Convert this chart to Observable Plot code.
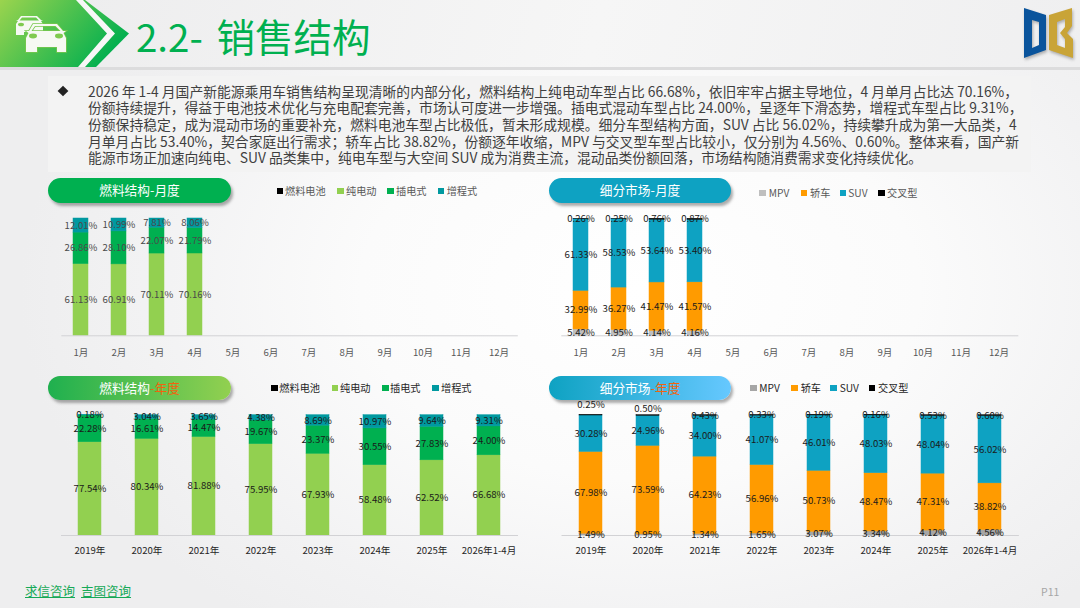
<!DOCTYPE html>
<html lang="zh-CN">
<head>
<meta charset="utf-8">
<script src="https://cdn.jsdelivr.net/npm/d3@7"></script>
<script src="https://cdn.jsdelivr.net/npm/@observablehq/plot@0.6"></script>
<style>
html,body{margin:0;padding:0}
body{width:1080px;height:608px;overflow:hidden;position:relative;font-family:"Noto Sans CJK SC","Noto Sans",sans-serif;
background:radial-gradient(ellipse 620px 420px at 640px 290px,#ffffff 0%,#fbfbfb 45%,#f2f2f3 80%,#eeeeef 100%)}
.abs{position:absolute}
#head{left:0;top:0;width:1080px;height:67px;background:linear-gradient(105deg,#ececed 0%,#f6f6f6 55%,#efeff0 100%)}
#rule{left:0;top:67px;width:1080px;height:3px;background:#dcdcdd}
#title{left:136px;top:10px;font-size:38.5px;line-height:50px;color:#00b050;white-space:nowrap}
#title span{margin-right:5px}
#para{left:48px;top:76px;width:983px;height:96px;background:#f3f3f3}
#para div{position:absolute;left:40px;white-space:nowrap;font-size:13.8px;line-height:16.5px;color:#404040}
.pill{height:24.5px;border-radius:12.5px;color:#fff;font-size:12.7px;line-height:24px;text-align:center;box-shadow:2px 3px 3px rgba(70,70,70,.45)}
.pill b{font-weight:400;color:#f0640f}
.lg{font-size:10.2px;line-height:14px;white-space:nowrap}
.sw{width:6.5px;height:6.5px}
#foot{left:25px;top:582px;font-size:12.5px;line-height:18px;color:#16a957;white-space:nowrap}
#foot u{margin-right:6px}
#pg{left:1041px;top:584px;font-size:10.5px;line-height:16px;color:#a6a6a6}
</style>
</head>
<body>
<div class="abs" id="head"></div>
<div class="abs" id="rule"></div>
<svg class="abs" style="left:0;top:0" width="135" height="68" viewBox="0 0 135 68">
<defs><linearGradient id="g" x1="0" y1="0" x2="1" y2="0.45"><stop offset="0" stop-color="#9bd44e"/><stop offset="1" stop-color="#05b04f"/></linearGradient></defs>
<polygon points="0,0 85,0 129,33.5 96,67 0,67" fill="url(#g)"/>
<polygon points="76,0 83,0 115,33.5 85,67 78,67 107,33.5" fill="#f7f7f7"/>
<g fill="#f6f9f3" fill-rule="evenodd">
<path d="M21 16 H37 L41 20 H43 L41 21 L43 24 V35 H34 V32 H24 V35 H16 V24 L18 21 L16 20 H18 Z M22 17.5 L19.5 20.5 H39 L36 17.5 Z"/>
<path d="M33 24 H57 L63 31 H66 L63.5 33 L66 38 V52 H57 V47 H37 V52 H26 V38 L28.5 33 L26 31 H29 Z M35 26 L31.5 31 H60.5 L55.5 26 Z" stroke="#78c84e" stroke-width="1.6" paint-order="stroke"/>
</g>
<g fill="#7fca4f"><ellipse cx="21" cy="24.5" rx="3" ry="1.8"/><ellipse cx="33" cy="36" rx="4" ry="2.4"/><ellipse cx="59" cy="36" rx="4" ry="2.4"/></g>
</svg>
<div class="abs" id="title"><span>2.2-</span> 销售结构</div>
<svg class="abs" style="left:1020px;top:0" width="60" height="66" viewBox="0 0 60 66">
<g style="filter:drop-shadow(1.5px 2px 1.5px rgba(90,90,90,.45))">
<path fill-rule="evenodd" d="M4 8 L26 15 V50 L4 58 Z M12 20 V48 L19 45 V22 Z" fill="#0a549c"/>
<path fill-rule="evenodd" d="M29 15 L52 8 V26 L47 33 L53 39 V58 L29 50 Z M37 22 V45 L45 48 V39 L40 33 L45 27 V19 Z" fill="#c9a437"/>
</g>
</svg>
<div class="abs" id="para">
<span class="abs" style="left:11px;top:11px;width:8px;height:8px;background:#222;transform:rotate(45deg) scale(.95)"></span>
</div>
<div class="abs pill" style="left:48px;top:178.3px;width:183px;background:#00b050">燃料结构-月度</div>
<div class="abs pill" style="left:549px;top:178.3px;width:182px;background:#0ea2c2">细分市场-月度</div>
<div class="abs pill" style="left:48px;top:375.5px;width:183px;background:linear-gradient(90deg,#1fb04f,#92d050)">燃料结构<b>-年度</b></div>
<div class="abs pill" style="left:549px;top:375.5px;width:182px;background:linear-gradient(90deg,#0ea2c2,#66c8ff)">细分市场<b>-年度</b></div>
<div class="abs" id="foot"><u>求信咨询</u><u>吉图咨询</u></div>
<div class="abs" id="pg">P11</div>

<script>
// Categories
const months = ["1月","2月","3月","4月","5月","6月","7月","8月","9月","10月","11月","12月"];
const years = ["2019年","2020年","2021年","2022年","2023年","2024年","2025年","2026年1-4月"];
const fuelNames = ["燃料电池","纯电动","插电式","增程式"];
const segNames = ["MPV","轿车","SUV","交叉型"];

// Fuel structure, monthly (Jan-Apr)
const monthBev = [61.13,60.91,70.11,70.16];
const monthPhev = [26.86,28.10,22.07,21.79];
const monthErev = [12.01,10.99,7.81,8.06];

// Segment, monthly (Jan-Apr)
const monthMpv = [5.42,4.95,4.14,4.16];
const monthSedan = [32.99,36.27,41.47,41.57];
const monthSuv = [61.33,58.53,53.64,53.40];
const monthCross = [0.26,0.25,0.76,0.87];

// Fuel structure, yearly
const yearBev = [77.54,80.34,81.88,75.95,67.93,58.48,62.52,66.68];
const yearPhev = [22.28,16.61,14.47,19.67,23.37,30.55,27.83,24.00];
const yearErev = [0.18,3.04,3.65,4.38,8.69,10.97,9.64,9.31];

// Segment, yearly
const yearMpv = [1.49,0.95,1.34,1.65,3.07,3.34,4.12,4.56];
const yearSedan = [67.98,73.59,64.23,56.96,50.73,48.47,47.31,38.82];
const yearSuv = [30.28,24.96,34.00,41.07,46.01,48.03,48.04,56.02];
const yearCross = [0.25,0.50,0.43,0.33,0.19,0.16,0.53,0.60];

// Intro paragraph lines
const paraLines = [
"2026 年 1-4 月国产新能源乘用车销售结构呈现清晰的内部分化，燃料结构上纯电动车型占比 66.68%，依旧牢牢占据主导地位，4 月单月占比达 70.16%，",
"份额持续提升，得益于电池技术优化与充电配套完善，市场认可度进一步增强。插电式混动车型占比 24.00%，呈逐年下滑态势，增程式车型占比 9.31%，",
"份额保持稳定，成为混动市场的重要补充，燃料电池车型占比极低，暂未形成规模。细分车型结构方面，SUV 占比 56.02%，持续攀升成为第一大品类，4",
"月单月占比 53.40%，契合家庭出行需求；轿车占比 38.82%，份额逐年收缩，MPV 与交叉型车型占比较小，仅分别为 4.56%、0.60%。整体来看，国产新",
"能源市场正加速向纯电、SUV 品类集中，纯电车型与大空间 SUV 成为消费主流，混动品类份额回落，市场结构随消费需求变化持续优化。"
];

const para = document.getElementById("para");
paraLines.forEach((t,i)=>{
  const d=document.createElement("div");
  d.textContent=t;
  d.style.top=(6.6+i*16.65)+"px";
  para.appendChild(d);
});

const FONT='"Noto Sans CJK SC","Noto Sans",sans-serif';
const tidy=(cats,series)=>series.flatMap(([name,vals])=>vals.map((v,i)=>({cat:cats[i],name,value:v})));
const pct=d=>d.value.toFixed(2)+"%";

function chart(o){
  const rows=tidy(o.cats,o.series);
  const lift=o.lift||(()=>0);
  const stack=extra=>Plot.stackY({x:"cat",y:"value",z:"name",...extra});
  const labels=(amount)=>Plot.text(rows,stack({
    text:d=>lift(d)===amount?pct(d):null,
    fill:o.labelColor,fontSize:o.labelFont,dy:-amount
  }));
  const marks=[
    Plot.barY(rows,stack({fill:"name",stroke:"name",strokeWidth:.5})),
    Plot.ruleY([0],{stroke:"#d2d2d5",strokeWidth:1}),
    Plot.axisX({anchor:"bottom",tickSize:0,tickPadding:o.tickPad,fontSize:o.tickFont,fill:o.tickColor,label:null,lineWidth:20}),
    labels(0)
  ];
  if(o.lift) marks.push(labels(10),labels(7));
  const p=Plot.plot({
    width:o.width,height:o.height,
    marginLeft:o.ml,marginRight:o.mr,marginTop:o.mt,marginBottom:o.mb,
    style:{background:"transparent",overflow:"visible",fontFamily:FONT},
    x:{domain:o.cats,paddingInner:o.padIn,paddingOuter:o.padIn/2,label:null},
    y:{domain:[0,100],axis:null},
    color:{domain:o.names,range:o.colors},
    marks
  });
  const wrap=document.createElement("div");
  wrap.className="abs";
  wrap.style.left=o.left+"px";
  wrap.style.top=o.top+"px";
  wrap.appendChild(p);
  document.body.appendChild(wrap);
}

function legend(names,colors,swX,txtX,y,color){
  names.forEach((n,i)=>{
    const s=document.createElement("span");
    s.className="abs sw";
    s.style.cssText=`left:${swX[i]}px;top:${y-3.2}px;background:${colors[i]}`;
    const t=document.createElement("span");
    t.className="abs lg";
    t.textContent=n;
    t.style.cssText=`left:${txtX[i]}px;top:${y-7}px;color:${color}`;
    document.body.append(s,t);
  });
}

const fuelColors=["#000000","#92d050","#00b050","#0099a0"];
const segColorsM=["#bfbfbf","#ff9b00","#0ea2c2","#000000"];
const segColorsY=["#a6a6a6","#ff9b00","#0ea2c2","#000000"];

chart({left:40,top:205,width:490,height:150,ml:21.3,mr:12.2,mt:13,mb:19.7,padIn:.6,cats:months,
  names:fuelNames,colors:fuelColors,series:[["纯电动",monthBev],["插电式",monthPhev],["增程式",monthErev]],
  tickPad:13.5,tickFont:9.6,tickColor:"#595959",labelColor:"#4a4a4a",labelFont:9.6});
chart({left:545,top:205,width:490,height:150,ml:16.3,mr:16.7,mt:13.3,mb:19.7,padIn:.6,cats:months,
  names:segNames,colors:segColorsM,series:[["MPV",monthMpv],["轿车",monthSedan],["SUV",monthSuv],["交叉型",monthCross]],
  tickPad:13.5,tickFont:9.6,tickColor:"#595959",labelColor:"#1a1a1a",labelFont:9.6});
chart({left:40,top:400,width:490,height:165,ml:21,mr:12,mt:14.7,mb:30,padIn:.595,cats:years,
  names:fuelNames,colors:fuelColors,series:[["纯电动",yearBev],["插电式",yearPhev],["增程式",yearErev]],
  tickPad:12,tickFont:9.6,tickColor:"#262626",labelColor:"#1a1a1a",labelFont:9.6});
chart({left:545,top:400,width:490,height:165,ml:16.5,mr:16.1,mt:14.7,mb:30,padIn:.595,cats:years,
  names:segNames,colors:segColorsY,series:[["MPV",yearMpv],["轿车",yearSedan],["SUV",yearSuv],["交叉型",yearCross]],
  lift:d=>d.name==="交叉型"&&d.cat==="2019年"?10:d.name==="交叉型"&&d.cat==="2020年"?7:0,
  tickPad:12,tickFont:9.6,tickColor:"#262626",labelColor:"#1a1a1a",labelFont:9.6});

legend(fuelNames,fuelColors,[276.7,337,387,437.7],[285,346,396,446.7],190.7,"#595959");
legend(segNames,segColorsM,[759,800.7,839.7,878],[768.7,810,848.3,887],192.7,"#595959");
legend(fuelNames,fuelColors,[271,331.7,382,432.3],[279.3,340,390,441],387.7,"#262626");
legend(segNames,segColorsY,[750,791.3,830.3,868.7],[759.3,800.7,839.7,878],387.7,"#262626");
</script>
</body>
</html>
